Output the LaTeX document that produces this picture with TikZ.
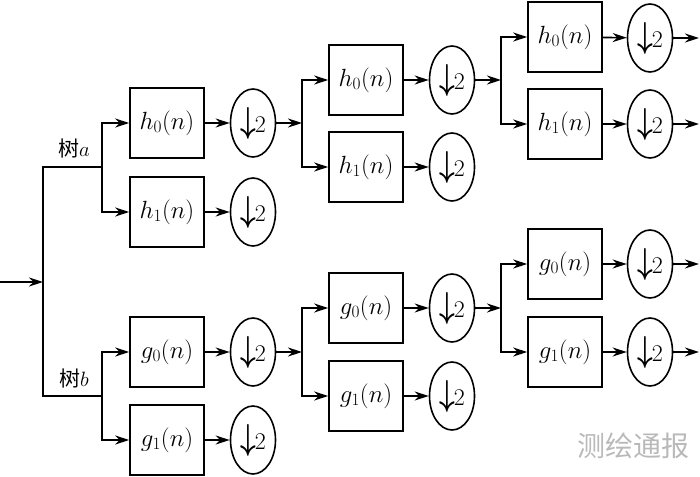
\documentclass[tikz,border=0pt]{standalone}
\usepackage{amsmath}
\usepackage{fontspec}
\newfontfamily\cjk{Noto Sans CJK SC}
\usetikzlibrary{arrows.meta,shapes.geometric}
\newcommand{\dsym}{\scalebox{1.1}[1.45]{$\boldsymbol{\downarrow}$}\kern-1pt2}

\begin{document}
\begin{tikzpicture}[x=1pt,y=-1pt,->,>={Stealth[length=14pt,width=9pt]},line width=1.6pt,
  filt/.style={draw,rectangle,minimum width=74pt,minimum height=70pt,inner sep=0pt,font=\fontsize{24}{28}\selectfont},
  dec/.style={draw,ellipse,minimum width=45pt,minimum height=68pt,inner sep=0pt,font=\fontsize{24}{28}\selectfont}]
\useasboundingbox (0,0) rectangle (700,476);

% input and trunk
\coordinate (in) at (0,282);
\coordinate (trunk) at (43,282);
\node[font=\fontsize{21}{25}\selectfont] (la) at (74,149) {{\cjk 树}$a$};
\node[font=\fontsize{21}{25}\selectfont] (lb) at (74,379) {{\cjk 树}$b$};

% tree a
\coordinate (a1j) at (102,167);
\node[filt] (a1h0) at (167,123) {$h_0(n)$};
\node[filt] (a1h1) at (167,212) {$h_1(n)$};
\node[dec] (a1d0) at (253,123) {\dsym};
\node[dec] (a1d1) at (253,212) {\dsym};
\coordinate (a2j) at (302,123);
\node[filt] (a2h0) at (366,80) {$h_0(n)$};
\node[filt] (a2h1) at (366,167) {$h_1(n)$};
\node[dec] (a2d0) at (452,80) {\dsym};
\node[dec] (a2d1) at (452,167) {\dsym};
\coordinate (a3j) at (501,80);
\node[filt] (a3h0) at (565,37) {$h_0(n)$};
\node[filt] (a3h1) at (565,124) {$h_1(n)$};
\node[dec] (a3d0) at (650,38) {\dsym};
\node[dec] (a3d1) at (650,124) {\dsym};
\coordinate (a3o0) at (699,38);
\coordinate (a3o1) at (699,124);

% tree b
\coordinate (b1j) at (102,396);
\node[filt] (b1g0) at (167,352) {$g_0(n)$};
\node[filt] (b1g1) at (167,440) {$g_1(n)$};
\node[dec] (b1d0) at (253,352) {\dsym};
\node[dec] (b1d1) at (253,440) {\dsym};
\coordinate (b2j) at (302,352);
\node[filt] (b2g0) at (366,308) {$g_0(n)$};
\node[filt] (b2g1) at (366,396) {$g_1(n)$};
\node[dec] (b2d0) at (452,308) {\dsym};
\node[dec] (b2d1) at (452,396) {\dsym};
\coordinate (b3j) at (501,308);
\node[filt] (b3g0) at (565,264) {$g_0(n)$};
\node[filt] (b3g1) at (565,352) {$g_1(n)$};
\node[dec] (b3d0) at (650,264) {\dsym};
\node[dec] (b3d1) at (650,352) {\dsym};
\coordinate (b3o0) at (699,264);
\coordinate (b3o1) at (699,352);

\node[text=gray!55,font=\fontsize{28}{32}\selectfont] (wm) at (633,446) {\cjk 测绘通报};

% connectors
\draw (in) -- (trunk);
\draw[-] (a1j) -| (trunk) |- (b1j);

\draw (a1j) |- (a1h0);
\draw (a1j) |- (a1h1);
\draw (a1h0) -- (a1d0);
\draw (a1h1) -- (a1d1);
\draw (a1d0) -- (a2j);
\draw (a2j) |- (a2h0);
\draw (a2j) |- (a2h1);
\draw (a2h0) -- (a2d0);
\draw (a2h1) -- (a2d1);
\draw (a2d0) -- (a3j);
\draw (a3j) |- (a3h0);
\draw (a3j) |- (a3h1);
\draw (a3h0) -- (a3d0);
\draw (a3h1) -- (a3d1);
\draw (a3d0) -- (a3o0);
\draw (a3d1) -- (a3o1);

\draw (b1j) |- (b1g0);
\draw (b1j) |- (b1g1);
\draw (b1g0) -- (b1d0);
\draw (b1g1) -- (b1d1);
\draw (b1d0) -- (b2j);
\draw (b2j) |- (b2g0);
\draw (b2j) |- (b2g1);
\draw (b2g0) -- (b2d0);
\draw (b2g1) -- (b2d1);
\draw (b2d0) -- (b3j);
\draw (b3j) |- (b3g0);
\draw (b3j) |- (b3g1);
\draw (b3g0) -- (b3d0);
\draw (b3g1) -- (b3d1);
\draw (b3d0) -- (b3o0);
\draw (b3d1) -- (b3o1);
\end{tikzpicture}
\end{document}
